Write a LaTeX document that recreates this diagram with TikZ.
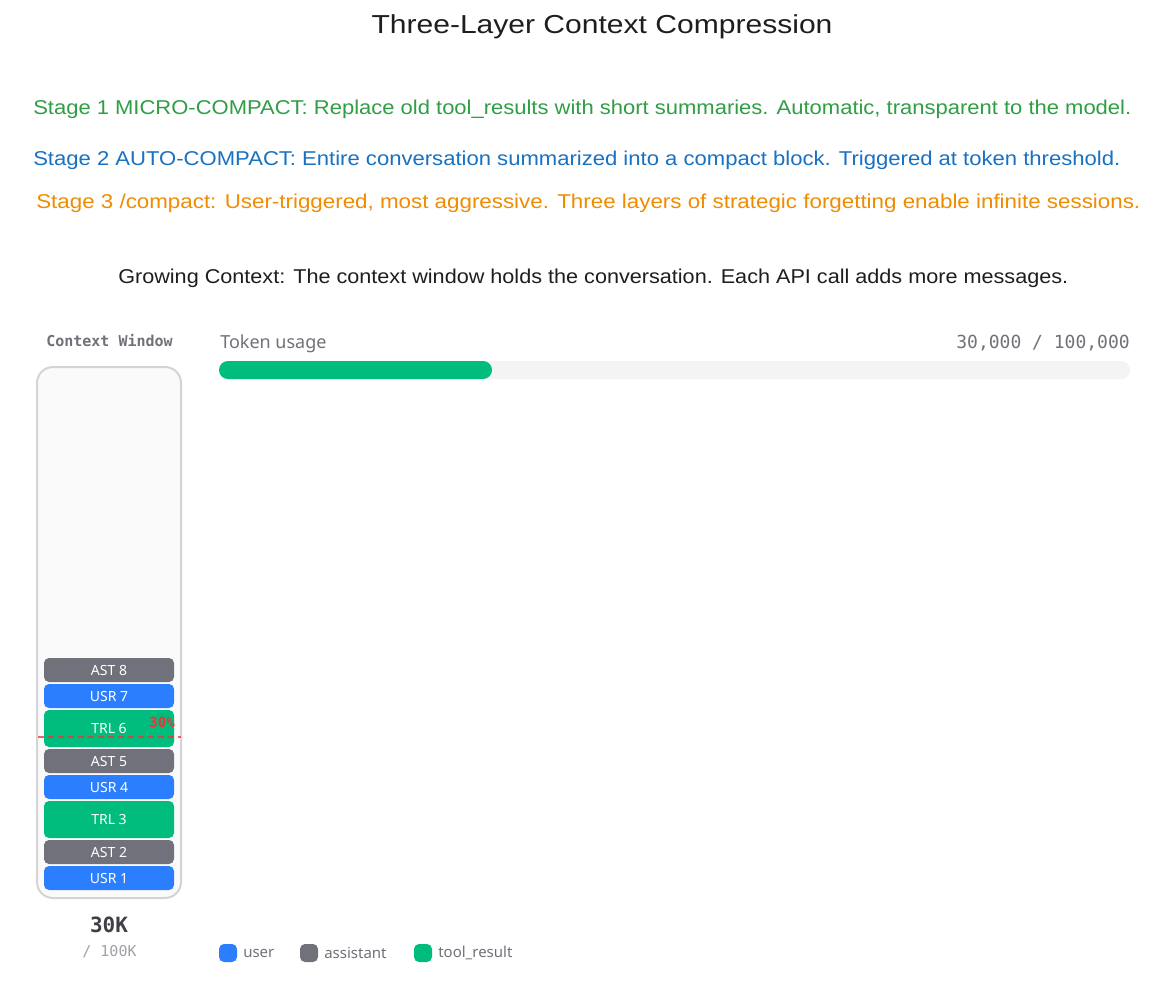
\documentclass[tikz,border=0pt]{standalone}
\usepackage{fontspec}
\usepackage{graphicx}
\setmainfont{Liberation Sans}
\newfontfamily\uifont{Noto Sans}
\newfontfamily\monofont{DejaVu Sans Mono}
\newlength\pxu
\setlength\pxu{0.75pt}
\newcommand\fsz[1]{\fontsize{#1\pxu}{#1\pxu}\selectfont}
\definecolor{titleblack}{HTML}{1E1E1E}
\definecolor{stgreen}{HTML}{2F9E44}
\definecolor{stblue}{HTML}{1971C2}
\definecolor{storange}{HTML}{F08C00}
\definecolor{ublue}{HTML}{2B7FFF}
\definecolor{agray}{HTML}{71717B}
\definecolor{tgreen}{HTML}{00BC7D}
\definecolor{mred}{HTML}{FB2C36}
\definecolor{txtgray}{HTML}{71717A}
\definecolor{ltgray}{HTML}{A1A1AA}
\definecolor{boxborder}{HTML}{D4D4D8}
\definecolor{boxfill}{HTML}{FAFAFA}
\definecolor{trackfill}{HTML}{F4F4F5}
\definecolor{darktxt}{HTML}{3F3F46}
\tikzset{
  blk/.style={rounded corners=5\pxu, minimum width=130\pxu, inner sep=0pt,
    text=white, font=\uifont\fsz{14}\bfseries},
  leg/.style={rounded corners=5\pxu, minimum width=18\pxu, minimum height=18\pxu, inner sep=0pt},
  legtxt/.style={anchor=west, inner sep=0pt, text=txtgray, font=\uifont\fsz{15}},
  stage/.style={anchor=base west, inner sep=0pt, font=\fsz{20}}
}
\begin{document}
\begin{tikzpicture}[x=0.75pt,y=-0.75pt]
\path[use as bounding box, fill=white] (0,0) rectangle (1160,992);

% title and stage lines
\node[anchor=base, inner sep=0pt, text=titleblack, font=\fsz{26}] (title) at (602,33)
  {\resizebox{461\pxu}{\height}{Three-Layer Context Compression}};
\node[stage, text=stgreen] (s1) at (33,114)
  {\resizebox{1098\pxu}{\height}{Stage 1 MICRO-COMPACT: Replace old tool\_results with short summaries. Automatic, transparent to the model.}};
\node[stage, text=stblue] (s2) at (33,165)
  {\resizebox{1087\pxu}{\height}{Stage 2 AUTO-COMPACT: Entire conversation summarized into a compact block. Triggered at token threshold.}};
\node[stage, text=storange] (s3) at (36,208)
  {\resizebox{1104\pxu}{\height}{Stage 3 /compact: User-triggered, most aggressive. Three layers of strategic forgetting enable infinite sessions.}};
\node[stage, text=titleblack] (grow) at (118,283)
  {\resizebox{950\pxu}{\height}{Growing Context: The context window holds the conversation. Each API call adds more messages.}};

% context window
\node[inner sep=0pt, text=txtgray, font=\monofont\fsz{15}\bfseries] (cwlabel) at (109.5,341) {Context Window};
\node[draw=boxborder, line width=2\pxu, fill=boxfill, rounded corners=16\pxu,
  minimum width=144\pxu, minimum height=531\pxu, inner sep=0pt] (cwbox) at (109,632.5) {};

\node[blk, fill=agray, minimum height=24\pxu] (ast8) at (109,670) {AST 8};
\node[blk, fill=ublue, minimum height=24\pxu] (usr7) at (109,696) {USR 7};
\node[blk, fill=tgreen, minimum height=37\pxu] (trl6) at (109,728.5) {TRL 6};
\node[blk, fill=agray, minimum height=24\pxu] (ast5) at (109,761) {AST 5};
\node[blk, fill=ublue, minimum height=24\pxu] (usr4) at (109,787) {USR 4};
\node[blk, fill=tgreen, minimum height=37\pxu] (trl3) at (109,819.5) {TRL 3};
\node[blk, fill=agray, minimum height=24\pxu] (ast2) at (109,852) {AST 2};
\node[blk, fill=ublue, minimum height=24\pxu] (usr1) at (109,878) {USR 1};

\coordinate (thl) at (38,737);
\coordinate (thr) at (181,737);
\draw[mred, opacity=0.75, line width=2\pxu, dash pattern=on 6\pxu off 4\pxu] (thl) -- (thr);
\node[anchor=east, inner sep=0pt, text=mred, font=\monofont\fsz{14}\bfseries] (pct) at (175,722) {30\%};

\node[inner sep=0pt, text=darktxt, font=\monofont\fsz{21}\bfseries] (tok) at (109,925) {30K};
\node[inner sep=0pt, text=ltgray, font=\monofont\fsz{15}] (max) at (109.5,952) {/ 100K};

% token usage bar
\node[anchor=base west, inner sep=0pt, text=txtgray, font=\uifont\fsz{18}] (tulabel) at (220,348) {Token usage};
\node[anchor=base east, inner sep=0pt, text=txtgray, font=\monofont\fsz{18}] (tuval) at (1130,348) {30,000 / 100,000};
\node[fill=trackfill, rounded corners=9\pxu, minimum width=911\pxu, minimum height=18\pxu, inner sep=0pt] (track) at (674.5,370) {};
\node[fill=tgreen, rounded corners=9\pxu, minimum width=273\pxu, minimum height=18\pxu, inner sep=0pt] (fillbar) at (355.5,370) {};

% legend
\node[leg, fill=ublue] (lu) at (228,953) {};
\node[legtxt] (lut) at (243,953) {user};
\node[leg, fill=agray] (la) at (309,953) {};
\node[legtxt] (lat) at (324,953) {assistant};
\node[leg, fill=tgreen] (lt) at (423,953) {};
\node[legtxt] (ltt) at (438,953) {tool\_result};
\end{tikzpicture}
\end{document}
